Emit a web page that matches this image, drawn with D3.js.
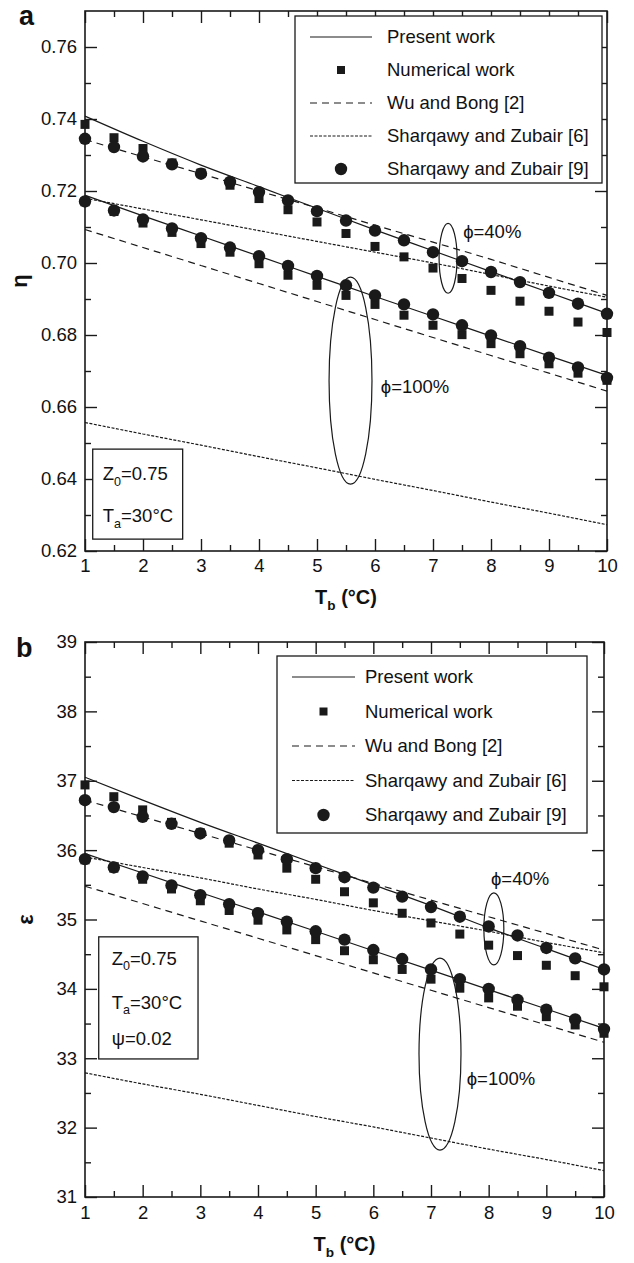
<!DOCTYPE html>
<html>
<head>
<meta charset="utf-8">
<script src="https://cdn.jsdelivr.net/npm/d3@7"></script>
<style>
  body { margin: 0; background: #fff; }
  svg text { font-family: "Liberation Sans", Arial, sans-serif; fill: #111; }
</style>
</head>
<body>
<svg id="chart" width="634" height="1263"></svg>
<script>
// ---------- data ----------
var lineX = [1, 2, 3, 4, 5, 6, 7, 8, 9, 10];
var pointX = [1, 1.5, 2, 2.5, 3, 3.5, 4, 4.5, 5, 5.5, 6, 6.5, 7, 7.5, 8, 8.5, 9, 9.5, 10];

// panel a : eta
var aPresent40 = [0.7408, 0.7338, 0.7272, 0.7212, 0.7152, 0.7092, 0.7034, 0.6976, 0.6918, 0.6860];
var aPresent100 = [0.7188, 0.7131, 0.7075, 0.7019, 0.6963, 0.6907, 0.6852, 0.6797, 0.6742, 0.6688];
var aWu40 = [0.7343, 0.7295, 0.7248, 0.7200, 0.7153, 0.7105, 0.7058, 0.7010, 0.6960, 0.6910];
var aWu100 = [0.7093, 0.7043, 0.6993, 0.6943, 0.6893, 0.6843, 0.6793, 0.6743, 0.6694, 0.6644];
var aShz6_40 = [0.7180, 0.7150, 0.7120, 0.7090, 0.7060, 0.7030, 0.7000, 0.6968, 0.6936, 0.6905];
var aShz6_100 = [0.6557, 0.6525, 0.6494, 0.6462, 0.6431, 0.6399, 0.6368, 0.6336, 0.6305, 0.6273];
var aNum40 = [0.7385, 0.7348, 0.7318, 0.7278, 0.7250, 0.7216, 0.7179, 0.7148, 0.7114, 0.7082,
  0.7046, 0.7017, 0.6986, 0.6957, 0.6924, 0.6894, 0.6866, 0.6836, 0.6807];
var aNum100 = [0.7170, 0.7143, 0.7111, 0.7085, 0.7054, 0.7030, 0.6998, 0.6966, 0.6938, 0.6910,
  0.6885, 0.6855, 0.6827, 0.6801, 0.6776, 0.6748, 0.6720, 0.6694, 0.6674];
var aShz9_40 = [0.7345, 0.7322, 0.7296, 0.7274, 0.7248, 0.7225, 0.7197, 0.7174, 0.7144, 0.7118,
  0.7090, 0.7063, 0.7030, 0.7005, 0.6975, 0.6947, 0.6917, 0.6887, 0.6859];
var aShz9_100 = [0.7171, 0.7146, 0.7121, 0.7096, 0.7069, 0.7043, 0.7019, 0.6992, 0.6964, 0.6938,
  0.6910, 0.6885, 0.6857, 0.6827, 0.6799, 0.6769, 0.6737, 0.6710, 0.6681];

// panel b : epsilon
var bPresent40 = [37.05, 36.72, 36.40, 36.10, 35.80, 35.50, 35.20, 34.88, 34.58, 34.28];
var bPresent100 = [35.95, 35.67, 35.39, 35.11, 34.83, 34.55, 34.27, 33.99, 33.71, 33.43];
var bWu40 = [36.72, 36.48, 36.24, 36.00, 35.76, 35.52, 35.28, 35.04, 34.80, 34.56];
var bWu100 = [35.48, 35.23, 34.98, 34.73, 34.48, 34.23, 33.98, 33.73, 33.48, 33.23];
var bShz6_40 = [35.90, 35.75, 35.60, 35.44, 35.29, 35.13, 34.98, 34.83, 34.67, 34.52];
var bShz6_100 = [32.79, 32.63, 32.48, 32.32, 32.16, 32.01, 31.85, 31.69, 31.54, 31.38];
var bNum40 = [36.94, 36.77, 36.58, 36.40, 36.25, 36.10, 35.93, 35.74, 35.58, 35.40,
  35.24, 35.09, 34.95, 34.79, 34.63, 34.48, 34.34, 34.19, 34.03];
var bNum100 = [35.86, 35.74, 35.58, 35.44, 35.27, 35.13, 34.99, 34.85, 34.71, 34.55,
  34.42, 34.28, 34.14, 34.01, 33.87, 33.75, 33.60, 33.48, 33.36];
var bShz9_40 = [36.72, 36.62, 36.48, 36.38, 36.24, 36.14, 36.00, 35.87, 35.74, 35.61,
  35.46, 35.33, 35.18, 35.04, 34.90, 34.77, 34.59, 34.44, 34.28];
var bShz9_100 = [35.87, 35.75, 35.62, 35.49, 35.35, 35.22, 35.09, 34.97, 34.83, 34.71,
  34.56, 34.43, 34.28, 34.14, 34.00, 33.84, 33.70, 33.56, 33.42];

var legendLabels = ['Present work', 'Numerical work', 'Wu and Bong [2]',
  'Sharqawy and Zubair [6]', 'Sharqawy and Zubair [9]'];
var xMajor = [1, 2, 3, 4, 5, 6, 7, 8, 9, 10];
var xMinor = [1.5, 2.5, 3.5, 4.5, 5.5, 6.5, 7.5, 8.5, 9.5];
var aYMajor = [0.62, 0.64, 0.66, 0.68, 0.70, 0.72, 0.74, 0.76];
var aYMinor = [0.63, 0.65, 0.67, 0.69, 0.71, 0.73, 0.75];
var bYMajor = [31, 32, 33, 34, 35, 36, 37, 38, 39];
var bYMinor = [31.5, 32.5, 33.5, 34.5, 35.5, 36.5, 37.5, 38.5];

// ---------- drawing ----------
var svg = d3.select('#chart');
var ink = '#1a1a1a';
var DASH = '7,5';
var DOT = '3,1.5';

// text with a subscript piece
function sub(textSel, main, subText, rest, size) {
  textSel.append('tspan').text(main);
  textSel.append('tspan').attr('font-size', size * 0.68).attr('dy', size * 0.3).text(subText);
  textSel.append('tspan').attr('dy', -size * 0.3).text(rest);
}

function drawPanel(p) {
  var x = d3.scaleLinear().domain([1, 10]).range([p.left, p.right]);
  var y = d3.scaleLinear().domain(p.yDomain).range([p.bottom, p.top]);
  var g = svg.append('g');
  var fs = 18.5;

  // ---------- axes (ticks point inwards on all four sides)
  function axis(gen, tx, ty, vals, size, fmt, pad) {
    var a = gen.tickValues(vals).tickSizeInner(-size).tickSizeOuter(0).tickPadding(pad || 8);
    a.tickFormat(fmt || '');
    var s = g.append('g').attr('transform', 'translate(' + tx + ',' + ty + ')').call(a);
    s.select('.domain').remove();
    s.selectAll('line').attr('stroke', ink).attr('stroke-width', 1.4);
    s.selectAll('text').attr('font-size', fs).attr('font-family', '"Liberation Sans", Arial, sans-serif').attr('fill', ink);
  }
  axis(d3.axisBottom(x), 0, p.bottom, xMajor, 12, d3.format('d'), p.xPad);
  axis(d3.axisBottom(x), 0, p.bottom, xMinor, 6);
  axis(d3.axisTop(x), 0, p.top, xMajor, 12);
  axis(d3.axisTop(x), 0, p.top, xMinor, 6);
  axis(d3.axisLeft(y), p.left, 0, p.yMajor, 12, p.yFormat, 8);
  axis(d3.axisLeft(y), p.left, 0, p.yMinor, 6);
  axis(d3.axisRight(y), p.right, 0, p.yMajor, 12);
  axis(d3.axisRight(y), p.right, 0, p.yMinor, 6);

  g.append('rect')
    .attr('x', p.left).attr('y', p.top)
    .attr('width', p.right - p.left).attr('height', p.bottom - p.top)
    .attr('fill', 'none').attr('stroke', ink).attr('stroke-width', 1.6);

  // ---------- lines
  var line = d3.line()
    .x(function(d, i) { return x(lineX[i]); })
    .y(function(d) { return y(d); })
    .curve(d3.curveMonotoneX);
  p.lines.forEach(function(l) {
    g.append('path')
      .attr('d', line(l.values))
      .attr('fill', 'none').attr('stroke', ink).attr('stroke-width', 1.2)
      .attr('stroke-dasharray', l.dash);
  });

  // ---------- markers
  p.squares.forEach(function(vals) {
    g.selectAll(null).data(vals).enter().append('rect')
      .attr('x', function(d, i) { return x(pointX[i]) - 4.5; })
      .attr('y', function(d) { return y(d) - 4.5; })
      .attr('width', 9).attr('height', 9).attr('fill', ink);
  });
  p.circles.forEach(function(vals) {
    g.selectAll(null).data(vals).enter().append('circle')
      .attr('cx', function(d, i) { return x(pointX[i]); })
      .attr('cy', function(d) { return y(d); })
      .attr('r', 6.2).attr('fill', ink);
  });

  // ---------- ellipses and phi labels
  p.ellipses.forEach(function(e) {
    g.append('ellipse')
      .attr('cx', x(e.cx)).attr('cy', y(e.cy))
      .attr('rx', x(e.cx + e.rx) - x(e.cx)).attr('ry', y(e.cy - e.ry) - y(e.cy))
      .attr('fill', 'none').attr('stroke', ink).attr('stroke-width', 1.2);
    g.append('text').attr('x', x(e.tx)).attr('y', y(e.ty))
      .attr('font-size', fs).text(e.label);
  });

  // ---------- info box
  var bx = x(p.info.x0), by = y(p.info.y1);
  g.append('rect')
    .attr('x', bx).attr('y', by)
    .attr('width', x(p.info.x1) - bx).attr('height', y(p.info.y0) - by)
    .attr('fill', '#fff').attr('stroke', ink).attr('stroke-width', 1.3);
  p.info.rows.forEach(function(r) {
    var t = g.append('text').attr('x', bx + p.info.tx).attr('y', by + r.dy).attr('font-size', fs);
    if (r.sub) sub(t, r.main, r.sub, r.rest, fs);
    else t.text(r.main);
  });

  // ---------- legend
  var L = p.legend;
  var lg = g.append('g').attr('transform', 'translate(' + L.x + ',' + L.y + ')');
  lg.append('rect').attr('width', L.w).attr('height', L.h)
    .attr('fill', '#fff').attr('stroke', ink).attr('stroke-width', 1.3);
  legendLabels.forEach(function(lab, i) {
    var ry = L.row0 + i * L.step;
    var mid = (L.l0 + L.l1) / 2;
    if (i === 0 || i === 2 || i === 3) {
      lg.append('line').attr('x1', L.l0).attr('x2', L.l1).attr('y1', ry).attr('y2', ry)
        .attr('stroke', ink).attr('stroke-width', 1.2)
        .attr('stroke-dasharray', i === 2 ? DASH : (i === 3 ? DOT : null));
    } else if (i === 1) {
      lg.append('rect').attr('x', mid - 4).attr('y', ry - 4).attr('width', 8).attr('height', 8).attr('fill', ink);
    } else {
      lg.append('circle').attr('cx', mid).attr('cy', ry).attr('r', 6.2).attr('fill', ink);
    }
    lg.append('text').attr('x', L.tx).attr('y', ry).attr('dy', '0.35em')
      .attr('font-size', fs).text(lab);
  });

  // ---------- axis titles and panel letter
  var xt = g.append('text').attr('x', (p.left + p.right) / 2).attr('y', p.xTitleY)
    .attr('text-anchor', 'middle').attr('font-size', 20).attr('font-weight', 'bold');
  sub(xt, 'T', 'b', ' (°C)', 20);

  var cy = (p.top + p.bottom) / 2;
  g.append('text').attr('x', p.yTitleX).attr('y', cy)
    .attr('text-anchor', 'middle').attr('font-size', 22).attr('font-weight', 'bold')
    .attr('transform', 'rotate(-90 ' + p.yTitleX + ',' + cy + ')')
    .text(p.yTitle);

  g.append('text').attr('x', p.letterX).attr('y', p.letterY)
    .attr('font-size', 27).attr('font-weight', 'bold').text(p.letter);
}

drawPanel({
  left: 85, right: 607, top: 11, bottom: 551,
  yDomain: [0.62, 0.77], yMajor: aYMajor, yMinor: aYMinor, yFormat: d3.format('.2f'),
  xPad: 8, xTitleY: 604, yTitleX: 27, yTitle: 'η',
  letter: 'a', letterX: 19, letterY: 25,
  lines: [
    { values: aPresent40, dash: null }, { values: aPresent100, dash: null },
    { values: aWu40, dash: DASH }, { values: aWu100, dash: DASH },
    { values: aShz6_40, dash: DOT }, { values: aShz6_100, dash: DOT }
  ],
  squares: [aNum40, aNum100],
  circles: [aShz9_40, aShz9_100],
  ellipses: [
    { cx: 7.26, cy: 0.7013, rx: 0.155, ry: 0.0097, tx: 7.52, ty: 0.7069, label: 'ϕ=40%' },
    { cx: 5.578, cy: 0.6673, rx: 0.37, ry: 0.02875, tx: 6.10, ty: 0.6638, label: 'ϕ=100%' }
  ],
  info: {
    x0: 1.133, x1: 2.684, y0: 0.6233, y1: 0.6483, tx: 10,
    rows: [
      { main: 'Z', sub: '0', rest: '=0.75', dy: 31 },
      { main: 'T', sub: 'a', rest: '=30°C', dy: 73 }
    ]
  },
  legend: { x: 295, y: 16, w: 307, h: 167, row0: 21, step: 33, l0: 15, l1: 77, tx: 92 }
});

drawPanel({
  left: 85, right: 604, top: 642, bottom: 1197,
  yDomain: [31, 39], yMajor: bYMajor, yMinor: bYMinor, yFormat: d3.format('d'),
  xPad: 9, xTitleY: 1251, yTitleX: 33, yTitle: 'ε',
  letter: 'b', letterX: 16, letterY: 657,
  lines: [
    { values: bPresent40, dash: null }, { values: bPresent100, dash: null },
    { values: bWu40, dash: DASH }, { values: bWu100, dash: DASH },
    { values: bShz6_40, dash: DOT }, { values: bShz6_100, dash: DOT }
  ],
  squares: [bNum40, bNum100],
  circles: [bShz9_40, bShz9_100],
  ellipses: [
    { cx: 8.09, cy: 34.865, rx: 0.173, ry: 0.519, tx: 8.04, ty: 35.50, label: 'ϕ=40%' },
    { cx: 7.156, cy: 33.06, rx: 0.364, ry: 1.383, tx: 7.62, ty: 32.62, label: 'ϕ=100%' }
  ],
  info: {
    x0: 1.238, x1: 2.96, y0: 32.99, y1: 34.75, tx: 13,
    rows: [
      { main: 'Z', sub: '0', rest: '=0.75', dy: 28 },
      { main: 'T', sub: 'a', rest: '=30°C', dy: 72 },
      { main: 'ψ=0.02', dy: 108 }
    ]
  },
  legend: { x: 277, y: 656, w: 310, h: 177, row0: 21, step: 34.5, l0: 15, l1: 78, tx: 88 }
});
</script>
</body>
</html>
